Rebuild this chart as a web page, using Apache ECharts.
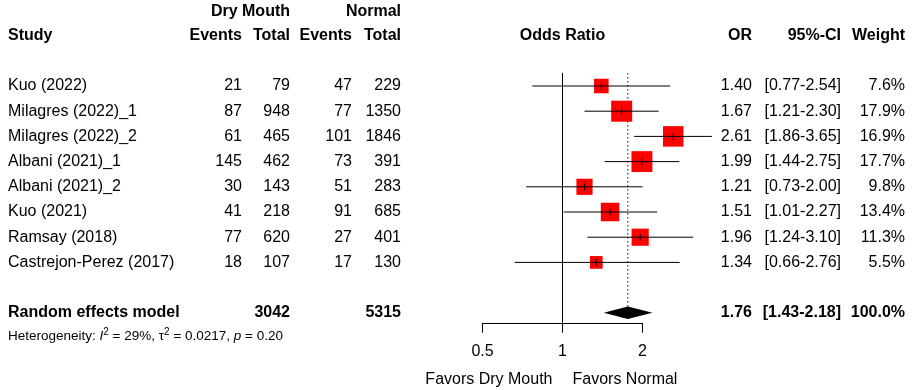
<!DOCTYPE html>
<html>
<head>
<meta charset="utf-8">
<script src="https://cdn.jsdelivr.net/npm/echarts@6/dist/echarts.min.js"></script>
<style>
  html, body { margin: 0; padding: 0; background: #fff; }
  #chart { width: 912px; height: 390px; }
</style>
</head>
<body>
<div id="chart"></div>
<script>
// ---------------- data ----------------
const studies   = ["Kuo (2022)", "Milagres (2022)_1", "Milagres (2022)_2", "Albani (2021)_1",
                   "Albani (2021)_2", "Kuo (2021)", "Ramsay (2018)", "Castrejon-Perez (2017)"];
const dmEvents  = [21, 87, 61, 145, 30, 41, 77, 18];
const dmTotal   = [79, 948, 465, 462, 143, 218, 620, 107];
const nEvents   = [47, 77, 101, 73, 51, 91, 27, 17];
const nTotal    = [229, 1350, 1846, 391, 283, 685, 401, 130];
const orVal     = [1.40, 1.67, 2.61, 1.99, 1.21, 1.51, 1.96, 1.34];
const ciLow     = [0.77, 1.21, 1.86, 1.44, 0.73, 1.01, 1.24, 0.66];
const ciHigh    = [2.54, 2.30, 3.65, 2.75, 2.00, 2.27, 3.10, 2.76];
const weights   = [7.6, 17.9, 16.9, 17.7, 9.8, 13.4, 11.3, 5.5];
const pooledLabel  = "Random effects model";
const pooledDmTotal = 3042;
const pooledNTotal  = 5315;
const pooledOR     = 1.76;
const pooledLow    = 1.43;
const pooledHigh   = 2.18;
const pooledWeight = 100.0;
const heterogeneity = { i2: "29%", tau2: "0.0217", p: "0.20" };
const xTicks    = [0.5, 1, 2];
const favorsLeft  = "Favors Dry Mouth";
const favorsRight = "Favors Normal";
const groupHeaders = ["Dry Mouth", "Normal"];
const colHeaders = ["Study", "Events", "Total", "Events", "Total", "Odds Ratio", "OR", "95%-CI", "Weight"];

// ---------------- layout ----------------
const FONT = "'Liberation Sans', Arial, Helvetica, sans-serif";
const COL = { study: 8, dmEv: 242, dmTot: 290, nEv: 352, nTot: 401, or: 752, ci: 841, w: 905 };
const ROW_HEAD1 = -2.95, ROW_HEAD2 = -2, ROW_POOL = 9, ROW_HET = 9.95, ROW_FAV = 11.67;

const cells = [];
function cell(row, text, x, align, bold, size) {
  cells.push({ row, text, x, align, bold: !!bold, size: size || 16 });
}
// headers
cell(ROW_HEAD1, groupHeaders[0], COL.dmTot, 'right', true);
cell(ROW_HEAD1, groupHeaders[1], COL.nTot, 'right', true);
cell(ROW_HEAD2, colHeaders[0], COL.study, 'left', true);
cell(ROW_HEAD2, colHeaders[1], COL.dmEv, 'right', true);
cell(ROW_HEAD2, colHeaders[2], COL.dmTot, 'right', true);
cell(ROW_HEAD2, colHeaders[3], COL.nEv, 'right', true);
cell(ROW_HEAD2, colHeaders[4], COL.nTot, 'right', true);
cell(ROW_HEAD2, colHeaders[5], 'ONE', 'center', true);
cell(ROW_HEAD2, colHeaders[6], COL.or, 'right', true);
cell(ROW_HEAD2, colHeaders[7], COL.ci, 'right', true);
cell(ROW_HEAD2, colHeaders[8], COL.w, 'right', true);
// study rows
studies.forEach((s, i) => {
  cell(i, s, COL.study, 'left');
  cell(i, String(dmEvents[i]), COL.dmEv, 'right');
  cell(i, String(dmTotal[i]), COL.dmTot, 'right');
  cell(i, String(nEvents[i]), COL.nEv, 'right');
  cell(i, String(nTotal[i]), COL.nTot, 'right');
  cell(i, orVal[i].toFixed(2), COL.or, 'right');
  cell(i, '[' + ciLow[i].toFixed(2) + '-' + ciHigh[i].toFixed(2) + ']', COL.ci, 'right');
  cell(i, weights[i].toFixed(1) + '%', COL.w, 'right');
});
// pooled row
cell(ROW_POOL, pooledLabel, COL.study, 'left', true);
cell(ROW_POOL, String(pooledDmTotal), COL.dmTot, 'right', true);
cell(ROW_POOL, String(pooledNTotal), COL.nTot, 'right', true);
cell(ROW_POOL, pooledOR.toFixed(2), COL.or, 'right', true);
cell(ROW_POOL, '[' + pooledLow.toFixed(2) + '-' + pooledHigh.toFixed(2) + ']', COL.ci, 'right', true);
cell(ROW_POOL, pooledWeight.toFixed(1) + '%', COL.w, 'right', true);
// favors labels
cell(ROW_FAV, favorsLeft, 'ONE_L', 'right');
cell(ROW_FAV, favorsRight, 'ONE_R', 'left');

const chart = echarts.init(document.getElementById('chart'), null, { renderer: 'canvas' });

const option = {
  animation: false,
  backgroundColor: '#ffffff',
  grid: { left: 482.5, width: 160, top: 0.32, height: 322.56 },
  xAxis: {
    type: 'log', logBase: 2, min: xTicks[0], max: xTicks[xTicks.length - 1],
    axisLine: { show: true, onZero: false, lineStyle: { color: '#000', width: 1 } },
    axisTick: { show: true, length: 10, lineStyle: { color: '#000', width: 1 } },
    axisLabel: { show: true, margin: 21, color: '#000', fontSize: 16, fontFamily: FONT,
                 formatter: v => String(+v.toFixed(2)) },
    splitLine: { show: false }, minorTick: { show: false }
  },
  yAxis: { type: 'value', inverse: true, min: -3.4, max: 9.4, show: false },
  series: [
    { // reference lines
      type: 'custom', clip: false, silent: true, z: 1,
      data: [[1, 0]],
      renderItem: (params, api) => {
        const x1 = api.coord([1, 0])[0];
        const xp = api.coord([pooledOR, 0])[0];
        const yTop = api.coord([1, -0.52])[1];
        const yBot = api.coord([1, 9.4])[1];
        const yDia = api.coord([1, ROW_POOL])[1] - 6;
        return { type: 'group', children: [
          { type: 'line', shape: { x1: x1, y1: yTop, x2: x1, y2: yBot }, style: { stroke: '#000', lineWidth: 1 } },
          { type: 'line', shape: { x1: xp, y1: yTop, x2: xp, y2: yDia }, style: { stroke: '#444', lineWidth: 1.3, lineDash: [1.5, 2.5] } }
        ]};
      }
    },
    { // studies
      type: 'custom', clip: false, silent: true, z: 3,
      data: studies.map((s, i) => [orVal[i], i, ciLow[i], ciHigh[i], weights[i]]),
      renderItem: (params, api) => {
        const p = api.coord([api.value(0), api.value(1)]);
        const lo = api.coord([api.value(2), api.value(1)])[0];
        const hi = api.coord([api.value(3), api.value(1)])[0];
        const sz = 2.4 + 4.4 * Math.sqrt(api.value(4));
        return { type: 'group', children: [
          { type: 'rect', shape: { x: p[0] - sz / 2, y: p[1] - sz / 2, width: sz, height: sz }, style: { fill: '#ff0000' } },
          { type: 'line', shape: { x1: lo, y1: p[1], x2: hi, y2: p[1] }, style: { stroke: '#000', lineWidth: 1 } },
          { type: 'line', shape: { x1: p[0], y1: p[1] - 3.5, x2: p[0], y2: p[1] + 3.5 }, style: { stroke: '#000', lineWidth: 1 } }
        ]};
      }
    },
    { // pooled diamond
      type: 'custom', clip: false, silent: true, z: 3,
      data: [[pooledOR, ROW_POOL, pooledLow, pooledHigh]],
      renderItem: (params, api) => {
        const p = api.coord([api.value(0), api.value(1)]);
        const lo = api.coord([api.value(2), api.value(1)])[0];
        const hi = api.coord([api.value(3), api.value(1)])[0];
        return { type: 'polygon', shape: { points: [[lo, p[1]], [p[0], p[1] - 6.2], [hi, p[1]], [p[0], p[1] + 6.2]] },
                 style: { fill: '#000' } };
      }
    },
    { // table texts
      type: 'custom', clip: false, silent: true, z: 4,
      data: cells.map((c, k) => [1, c.row, k]),
      renderItem: (params, api) => {
        const c = cells[api.value(2)];
        const y = api.coord([1, c.row])[1];
        const x1 = api.coord([1, c.row])[0];
        let x = c.x;
        if (x === 'ONE') x = x1;
        if (x === 'ONE_L') x = x1 - 10;
        if (x === 'ONE_R') x = x1 + 10;
        return { type: 'text', style: {
          text: c.text, x: x, y: y, align: c.align, verticalAlign: 'middle',
          fontSize: c.size, fontFamily: FONT, fontWeight: c.bold ? 'bold' : 'normal', fill: '#000'
        }};
      }
    },
    { // heterogeneity line
      type: 'custom', clip: false, silent: true, z: 4,
      data: [[1, ROW_HET]],
      renderItem: (params, api) => {
        const y = api.coord([1, ROW_HET])[1];
        return { type: 'text', style: {
          text: 'Heterogeneity: {it|I}{sup|2} = ' + heterogeneity.i2 + ', τ{sup|2} = ' + heterogeneity.tau2 + ', {it|p} = ' + heterogeneity.p,
          x: COL.study, y: y, align: 'left', verticalAlign: 'middle',
          fontSize: 13.5, fontFamily: FONT, fill: '#000',
          rich: {
            it: { fontStyle: 'italic', fontSize: 13.5, fontFamily: FONT, fill: '#000' },
            sup: { fontSize: 10, fontFamily: FONT, fill: '#000', verticalAlign: 'top', lineHeight: 18, padding: [0, 0, 8, 0] }
          }
        }};
      }
    }
  ]
};
chart.setOption(option);
</script>
</body>
</html>
